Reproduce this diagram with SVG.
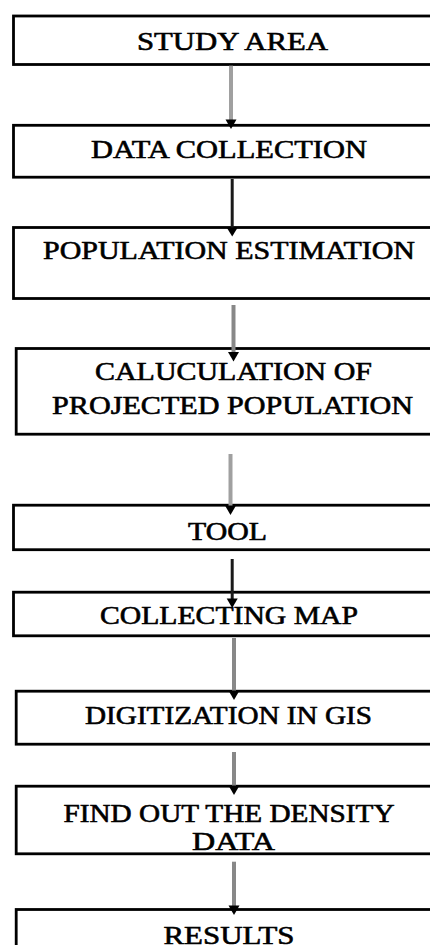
<svg xmlns="http://www.w3.org/2000/svg" width="430" height="945" viewBox="0 0 430 945">
<style>
.box{fill:#fff;stroke:#000;stroke-width:2.8}
.t{font-family:"Liberation Serif","Times New Roman",serif;font-size:26px;fill:#000;stroke:#000;stroke-width:0.6}
.lg{stroke:#a0a0a0;stroke-width:4;fill:none}
.dg{stroke:#888;stroke-width:4;fill:none}
.bk{stroke:#1a1a1a;stroke-width:3;fill:none}
.ah{fill:#000}
</style>
<rect width="430" height="945" fill="#fff"/>
<g id="node-study-area">
<rect class="box" x="13.5" y="16" width="430" height="48.5"/>
<text class="t" x="137" y="50" textLength="191" lengthAdjust="spacingAndGlyphs">STUDY AREA</text>
</g>
<g id="node-data-collection">
<rect class="box" x="13.5" y="125.3" width="430" height="51.9"/>
<text class="t" x="91" y="157.7" textLength="276" lengthAdjust="spacingAndGlyphs">DATA COLLECTION</text>
</g>
<g id="node-population-estimation">
<rect class="box" x="13.5" y="227.5" width="430" height="71"/>
<text class="t" x="43" y="259" textLength="372" lengthAdjust="spacingAndGlyphs">POPULATION ESTIMATION</text>
</g>
<g id="node-calculation">
<rect class="box" x="16.2" y="348.5" width="430" height="85.7"/>
<text class="t" x="95" y="380" textLength="277" lengthAdjust="spacingAndGlyphs">CALUCULATION OF</text>
<text class="t" x="52" y="414.3" textLength="361" lengthAdjust="spacingAndGlyphs">PROJECTED POPULATION</text>
</g>
<g id="node-tool">
<rect class="box" x="13.5" y="505.2" width="430" height="44.5"/>
<text class="t" x="188" y="540" textLength="79" lengthAdjust="spacingAndGlyphs">TOOL</text>
</g>
<g id="node-collecting-map">
<rect class="box" x="13.5" y="592.2" width="430" height="43.6"/>
<text class="t" x="100" y="624" textLength="258" lengthAdjust="spacingAndGlyphs">COLLECTING MAP</text>
</g>
<g id="node-digitization">
<rect class="box" x="16.2" y="691.2" width="430" height="53"/>
<text class="t" x="85" y="724.3" textLength="287" lengthAdjust="spacingAndGlyphs">DIGITIZATION IN GIS</text>
</g>
<g id="node-density">
<rect class="box" x="16.2" y="786.2" width="430" height="67.6"/>
<text class="t" x="63.5" y="821.7" textLength="331" lengthAdjust="spacingAndGlyphs">FIND OUT THE DENSITY</text>
<text class="t" x="192" y="850" textLength="83" lengthAdjust="spacingAndGlyphs">DATA</text>
</g>
<g id="node-results">
<rect class="box" x="16.2" y="909.5" width="430" height="60"/>
<text class="t" x="163.5" y="944" textLength="131" lengthAdjust="spacingAndGlyphs">RESULTS</text>
</g>
<g id="connectors">
<line class="lg" x1="231" y1="65.7" x2="231" y2="122"/>
<path class="ah" d="M225.5,119.5 L236.5,119.5 L231,129 Z"/>
<line class="bk" x1="232.2" y1="179" x2="232.2" y2="230"/>
<path class="ah" d="M226.7,227.5 L237.7,227.5 L232.2,236.5 Z"/>
<line class="dg" x1="233.5" y1="305" x2="233.5" y2="354"/>
<path class="ah" d="M228,352 L239,352 L233.5,361.5 Z"/>
<line class="lg" x1="230.5" y1="454" x2="230.5" y2="508"/>
<path class="ah" d="M225,505.5 L236,505.5 L230.5,515 Z"/>
<line class="bk" x1="232.2" y1="559" x2="232.2" y2="601"/>
<path class="ah" d="M226.7,598.5 L237.7,598.5 L232.2,608 Z"/>
<line class="dg" x1="234" y1="638" x2="234" y2="693"/>
<path class="ah" d="M228.5,690.5 L239.5,690.5 L234,700 Z"/>
<line class="dg" x1="234" y1="752" x2="234" y2="788"/>
<path class="ah" d="M228.5,785.5 L239.5,785.5 L234,795 Z"/>
<line class="dg" x1="234" y1="861.7" x2="234" y2="908"/>
<path class="ah" d="M228.5,905.5 L239.5,905.5 L234,915 Z"/>
</g>
</svg>
